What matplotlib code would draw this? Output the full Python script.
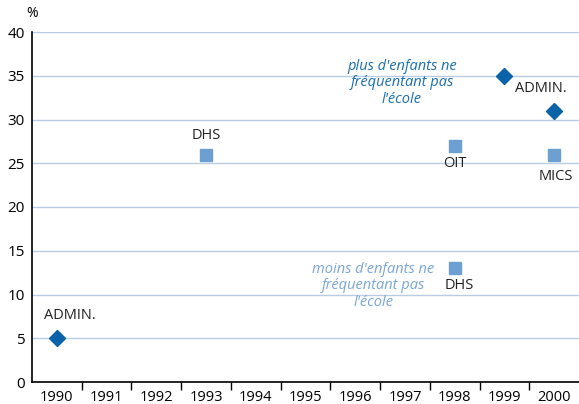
import matplotlib.pyplot as plt

plt.rcParams['font.family'] = ['Open Sans', 'DejaVu Sans']

years = ['1990', '1991', '1992', '1993', '1994', '1995', '1996', '1997', '1998', '1999', '2000']

# ADMIN. series (diamonds)
admin_years = ['1990', '1999', '2000']
admin_values = [5, 35, 31]

# survey series (squares)
survey_years = ['1993', '1998', '1998', '2000']
survey_values = [26, 27, 13, 26]

dark_blue = '#0a62a8'
light_blue = '#6e9fd1'

fig = plt.figure(figsize=(5.79, 4.04), dpi=100)
ax = fig.add_axes([32 / 579, 22 / 404, 547 / 579, 350 / 404])

xa = [years.index(y) for y in admin_years]
xs = [years.index(y) for y in survey_years]

ax.plot(xa, admin_values, linestyle='none', marker='D', markersize=8.2,
        color=dark_blue, zorder=3, clip_on=False)
ax.plot(xs, survey_values, linestyle='none', marker='s', markersize=9.2,
        color=light_blue, zorder=3, clip_on=False)

ax.set_xlim(-0.5, len(years) - 0.5)
ax.set_ylim(0, 40)
ax.set_yticks(range(0, 41, 5))
ax.set_xticks(range(len(years)))
ax.set_xticklabels(years)
ax.set_xticks([i + 0.5 for i in range(len(years) - 1)], minor=True)
ax.tick_params(axis='x', which='major', length=0, pad=6, labelsize=10.5)
ax.tick_params(axis='x', which='minor', length=6, width=1, direction='out')
ax.tick_params(axis='y', length=0, pad=5, labelsize=11)

ax.grid(axis='y', color='#b8cce4', linewidth=1)
ax.set_axisbelow(True)
for s in ['top', 'right']:
    ax.spines[s].set_visible(False)
ax.spines['left'].set_linewidth(1.2)
ax.spines['bottom'].set_linewidth(1.2)

ax.text(-0.5, 42.1, '%', ha='center', va='center', fontsize=10)

# point labels
lab = dict(fontsize=10.5, color='#222222', ha='center', va='center')
ax.text(3.0, 28.2, 'DHS', **lab)
ax.text(0.26, 7.6, 'ADMIN.', **lab)
ax.text(8.0, 25.0, 'OIT', **lab)
ax.text(9.74, 33.5, 'ADMIN.', **lab)
ax.text(10.04, 23.5, 'MICS', **lab)
ax.text(8.1, 11.0, 'DHS', **lab)

ax.text(6.94, 34.2, "plus d'enfants ne\nfréquentant pas\nl'école", ha='center', va='center',
        fontsize=10.5, style='italic', color='#1a6fb0', linespacing=1.15)
ax.text(6.36, 11.0, "moins d'enfants ne\nfréquentant pas\nl'école", ha='center', va='center',
        fontsize=10.5, style='italic', color='#7aa6d6', linespacing=1.15)

fig.savefig('out.png', dpi=100)
